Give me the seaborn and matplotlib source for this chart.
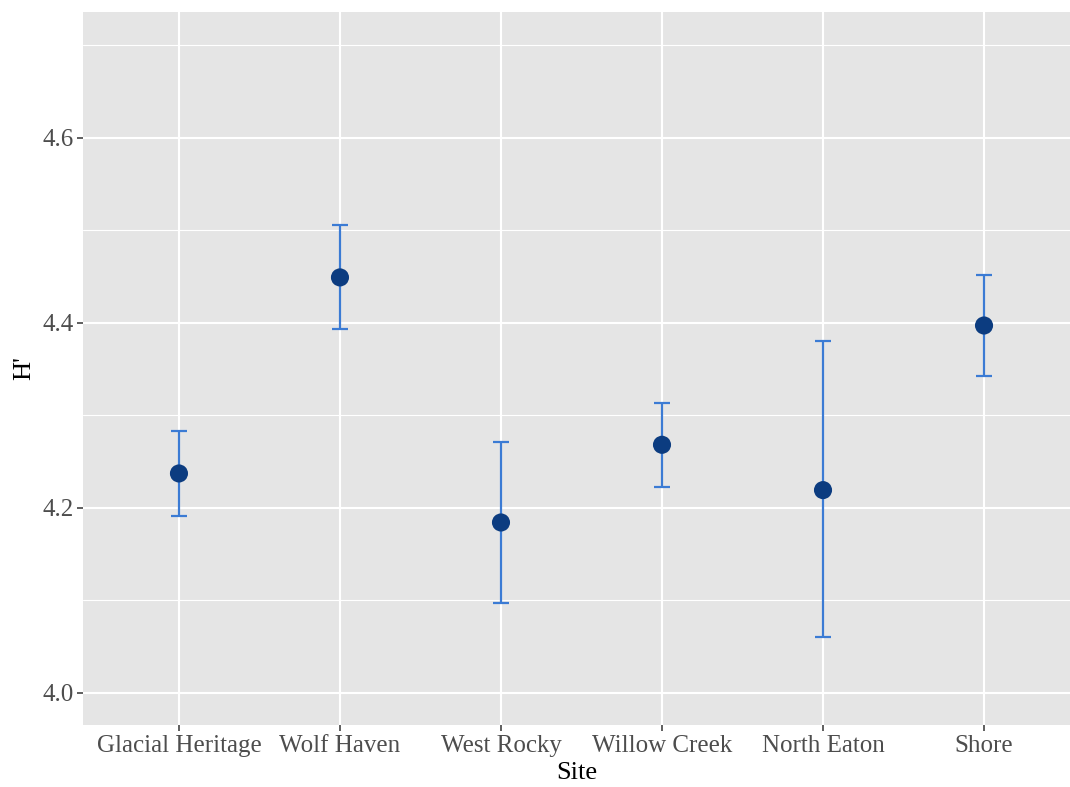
import matplotlib
matplotlib.use("Agg")
import matplotlib.pyplot as plt
import seaborn as sns
import pandas as pd
import numpy as np
from matplotlib.ticker import FixedLocator

sites = ["Glacial Heritage", "Wolf Haven", "West Rocky", "Willow Creek", "North Eaton", "Shore"]
h_mean = [4.237, 4.449, 4.184, 4.268, 4.219, 4.397]
h_low = [4.191, 4.393, 4.097, 4.222, 4.060, 4.342]
h_high = [4.283, 4.506, 4.271, 4.313, 4.380, 4.452]
y_ticks = [4.0, 4.2, 4.4, 4.6]
y_tick_labels = ["4.0", "4.2", "4.4", "4.6"]

df = pd.DataFrame({"Site": sites, "H": h_mean, "lo": h_low, "hi": h_high})

sns.set_theme(style="darkgrid")
plt.rcParams['font.family'] = ['Liberation Serif', 'DejaVu Serif']

fig = plt.figure(figsize=(10.7, 7.87), dpi=100)
ax = fig.add_axes([83/1070, 1 - 725/787, 1 - 83/1070, (725 - 12)/787])
ax.set_facecolor("#E5E5E5")

yerr = np.array([df["H"] - df["lo"], df["hi"] - df["H"]])
ax.errorbar(df["Site"], df["H"], yerr=yerr, fmt="none", ecolor="#3B7BD4",
            elinewidth=1.6, capsize=6, capthick=1.6, zorder=3)
sns.scatterplot(data=df, x="Site", y="H", ax=ax, color="#0C3C80", s=170,
                edgecolor="none", zorder=4)

ax.set_xlim(-0.596, 5.534)
ax.set_ylim(3.965, 4.736)
ax.yaxis.set_major_locator(FixedLocator(y_ticks))
ax.yaxis.set_minor_locator(FixedLocator([4.1, 4.3, 4.5, 4.7]))
ax.set_yticklabels(y_tick_labels)

ax.grid(which="major", color="white", linewidth=1.5)
ax.grid(which="minor", axis="y", color="white", linewidth=0.8)
ax.set_axisbelow(True)
for s in ax.spines.values():
    s.set_visible(False)

ax.tick_params(axis="both", which="major", length=4, width=1.1, color="#333333",
               labelsize=18, labelcolor="#4D4D4D", pad=3, bottom=True, left=True)
ax.tick_params(axis="y", which="minor", length=0)

ax.set_xlabel("Site", fontsize=19, color="black", labelpad=4)
ax.set_ylabel("H'", fontsize=19, color="black", labelpad=5)

fig.savefig("out.png", dpi=100)
